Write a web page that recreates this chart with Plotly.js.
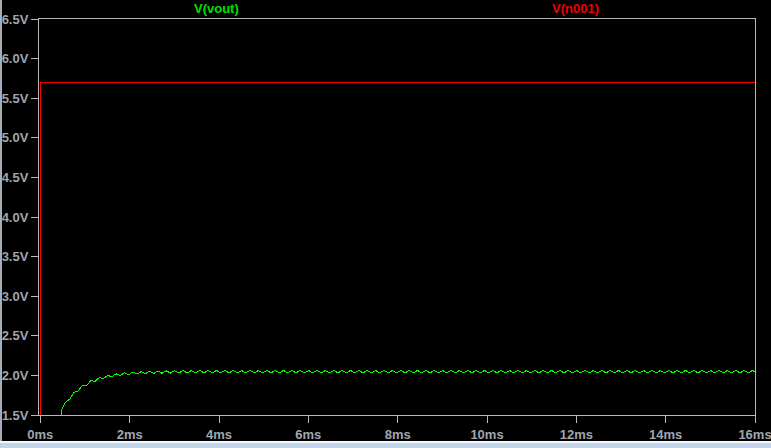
<!DOCTYPE html>
<html>
<head>
<meta charset="utf-8">
<script src="https://cdn.plot.ly/plotly-3.0.1.min.js"></script>
<style>
  html, body { margin: 0; padding: 0; background: #000; width: 771px; height: 448px; overflow: hidden; }
  #chart { position: absolute; left: 0; top: 0; width: 771px; height: 448px; }
  #leftEdge { position: absolute; left: 0; top: 0; width: 2px; height: 448px; background: #a8acb4; }
  #bottomLine { position: absolute; left: 0; top: 441px; width: 771px; height: 2px; background: #f4f6f8; }
  #bottomStrip { position: absolute; left: 0; top: 443px; width: 771px; height: 5px; background: #c4d6ec; }
  .js-line { shape-rendering: crispEdges; }
</style>
</head>
<body>
<div id="chart"></div>
<div id="leftEdge"></div>
<div id="bottomLine"></div>
<div id="bottomStrip"></div>
<script>
// Trace names
const traceNames = ["V(vout)", "V(n001)"];

// V(n001): supply steps to 5.7 V at t = 0
const tN001 = [0, 0, 16];
const vN001 = [1.4, 5.7, 5.7];

// V(vout): time in ms
const tVout = [
  0, 0.474,
  0.475, 0.569, 0.663, 0.756, 0.850, 0.944, 1.038, 1.131, 1.225, 1.319, 1.413, 1.506, 1.600, 1.694, 1.788, 1.881,
  1.975, 2.069, 2.163, 2.256, 2.350, 2.444, 2.538, 2.631, 2.725, 2.819, 2.913, 3.006, 3.100, 3.194, 3.288, 3.381,
  3.475, 3.569, 3.663, 3.756, 3.850, 3.944, 4.038, 4.131, 4.225, 4.319, 4.413, 4.506, 4.600, 4.694, 4.788, 4.881,
  4.975, 5.069, 5.163, 5.256, 5.350, 5.444, 5.538, 5.631, 5.725, 5.819, 5.913, 6.006, 6.100, 6.194, 6.288, 6.381,
  6.475, 6.569, 6.663, 6.756, 6.850, 6.944, 7.038, 7.131, 7.225, 7.319, 7.413, 7.506, 7.600, 7.694, 7.788, 7.881,
  7.975, 8.069, 8.163, 8.256, 8.350, 8.444, 8.538, 8.631, 8.725, 8.819, 8.913, 9.006, 9.100, 9.194, 9.288, 9.381,
  9.475, 9.569, 9.663, 9.756, 9.850, 9.944, 10.038, 10.131, 10.225, 10.319, 10.413, 10.506, 10.600, 10.694, 10.788, 10.881,
  10.975, 11.069, 11.163, 11.256, 11.350, 11.444, 11.538, 11.631, 11.725, 11.819, 11.913, 12.006, 12.100, 12.194, 12.288, 12.381,
  12.475, 12.569, 12.663, 12.756, 12.850, 12.944, 13.038, 13.131, 13.225, 13.319, 13.413, 13.506, 13.600, 13.694, 13.788, 13.881,
  13.975, 14.069, 14.163, 14.256, 14.350, 14.444, 14.538, 14.631, 14.725, 14.819, 14.913, 15.006, 15.100, 15.194, 15.288, 15.381,
  15.475, 15.569, 15.663, 15.756, 15.850, 15.944, 16.000
];
const vVout = [
  0, 0,
  1.568, 1.664, 1.702, 1.788, 1.805, 1.874, 1.876, 1.933, 1.925, 1.973, 1.959, 2.001, 1.982, 2.020, 1.997, 2.033,
  2.008, 2.042, 2.016, 2.048, 2.021, 2.053, 2.024, 2.056, 2.027, 2.058, 2.029, 2.060, 2.030, 2.061, 2.031, 2.062,
  2.032, 2.062, 2.032, 2.062, 2.032, 2.062, 2.032, 2.062, 2.032, 2.062, 2.032, 2.062, 2.032, 2.062, 2.032, 2.062,
  2.032, 2.062, 2.032, 2.062, 2.032, 2.062, 2.032, 2.062, 2.032, 2.062, 2.032, 2.062, 2.032, 2.062, 2.032, 2.062,
  2.032, 2.062, 2.032, 2.062, 2.032, 2.062, 2.032, 2.062, 2.032, 2.062, 2.032, 2.062, 2.032, 2.062, 2.032, 2.062,
  2.032, 2.062, 2.032, 2.062, 2.032, 2.062, 2.032, 2.062, 2.032, 2.062, 2.032, 2.062, 2.032, 2.062, 2.032, 2.062,
  2.032, 2.062, 2.032, 2.062, 2.032, 2.062, 2.032, 2.062, 2.032, 2.062, 2.032, 2.062, 2.032, 2.062, 2.032, 2.062,
  2.032, 2.062, 2.032, 2.062, 2.032, 2.062, 2.032, 2.062, 2.032, 2.062, 2.032, 2.062, 2.032, 2.062, 2.032, 2.062,
  2.032, 2.062, 2.032, 2.062, 2.032, 2.062, 2.032, 2.062, 2.032, 2.062, 2.032, 2.062, 2.032, 2.062, 2.032, 2.062,
  2.032, 2.062, 2.032, 2.062, 2.032, 2.062, 2.032, 2.062, 2.032, 2.062, 2.032, 2.062, 2.032, 2.062, 2.032, 2.062,
  2.032, 2.062, 2.032, 2.062, 2.032, 2.062, 2.047
];

// Axis ticks
const xTickVals = [0, 2, 4, 6, 8, 10, 12, 14, 16];
const xTickText = ["0ms", "2ms", "4ms", "6ms", "8ms", "10ms", "12ms", "14ms", "16ms"];
const yTickVals = [1.5, 2.0, 2.5, 3.0, 3.5, 4.0, 4.5, 5.0, 5.5, 6.0, 6.5];
const yTickText = ["1.5V", "2.0V", "2.5V", "3.0V", "3.5V", "4.0V", "4.5V", "5.0V", "5.5V", "6.0V", "6.5V"];

const GREEN = "#00ff00";
const RED = "#ff0000";
const FRAME = "#b8b8b8";
const TICKTXT = "#9ea6b0";
const FONT = "Liberation Sans, Arial, sans-serif";

const data = [
  { x: tVout, y: vVout, type: "scatter", mode: "lines", name: traceNames[0],
    line: { color: GREEN, width: 1 }, hoverinfo: "skip" },
  { x: tN001, y: vN001, type: "scatter", mode: "lines", name: traceNames[1],
    line: { color: RED, width: 1, simplify: false }, hoverinfo: "skip" }
];

const axisCommon = {
  showgrid: false, zeroline: false, showline: true, mirror: true,
  linecolor: FRAME, linewidth: 1, ticks: "outside", ticklen: 7,
  tickcolor: FRAME, tickwidth: 1, layer: "below traces",
  ticklabeloverflow: "allow",
  tickfont: { family: FONT, size: 13, color: TICKTXT, weight: "bold" },
  fixedrange: true
};

const layout = {
  width: 771, height: 448,
  margin: { l: 39, r: 16, t: 19, b: 33 },
  paper_bgcolor: "#000000", plot_bgcolor: "#000000",
  showlegend: false,
  xaxis: Object.assign({}, axisCommon, {
    range: [-0.03, 16], tickmode: "array", tickvals: xTickVals, ticktext: xTickText
  }),
  yaxis: Object.assign({}, axisCommon, {
    range: [1.5, 6.5], tickmode: "array", tickvals: yTickVals, ticktext: yTickText
  }),
  annotations: [
    { text: traceNames[0], xref: "paper", yref: "paper", x: 0.2486, y: 1.0253,
      xanchor: "center", yanchor: "middle", showarrow: false,
      font: { family: FONT, size: 13, color: "#00e000", weight: "bold" } },
    { text: traceNames[1], xref: "paper", yref: "paper", x: 0.749, y: 1.0253,
      xanchor: "center", yanchor: "middle", showarrow: false,
      font: { family: FONT, size: 13, color: "#f00000", weight: "bold" } }
  ]
};

Plotly.newPlot("chart", data, layout, { displayModeBar: false, staticPlot: true });
</script>
</body>
</html>
